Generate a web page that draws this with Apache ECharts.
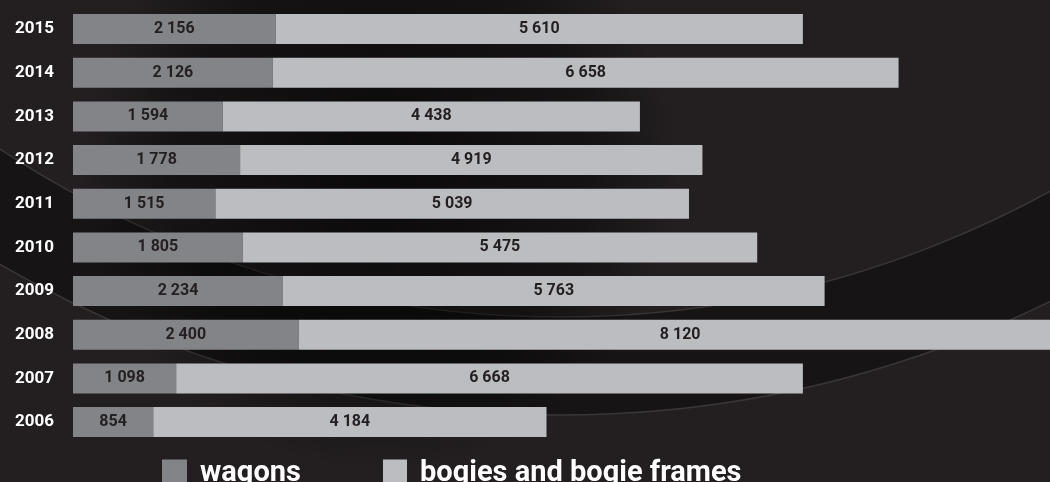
<!DOCTYPE html>
<html>
<head>
<meta charset="utf-8">
<style>
  html, body { margin: 0; padding: 0; background: #231f20; }
  #chart { width: 1050px; height: 482px; }
</style>
<script src="https://cdn.jsdelivr.net/npm/echarts@6/dist/echarts.min.js"></script>
</head>
<body>
<div id="chart"></div>
<script>
// Data (bottom to top on the category axis)
const years = ['2006', '2007', '2008', '2009', '2010', '2011', '2012', '2013', '2014', '2015'];
const wagons = [854, 1098, 2400, 2234, 1805, 1515, 1778, 1594, 2126, 2156];
const bogies = [4184, 6668, 8120, 5763, 5475, 5039, 4919, 4438, 6658, 5610];
const seriesNames = ['wagons', 'bogies and bogie frames'];

function fmt(v) {
  return String(v).replace(/\B(?=(\d{3})+(?!\d))/g, ' ');
}

const chart = echarts.init(document.getElementById('chart'), null, { renderer: 'canvas' });

const labelStyle = {
  show: true,
  position: 'inside',
  color: '#231f20',
  fontFamily: 'Roboto',
  fontWeight: 'bold',
  fontSize: 16,
  formatter: p => fmt(p.value)
};

const legendText = {
  color: '#ffffff', fontFamily: 'Roboto', fontWeight: 'bold', fontSize: 29,
  rich: {
    t: {
      color: '#ffffff', fontFamily: 'Roboto', fontWeight: 'bold', fontSize: 29,
      lineHeight: 29,
      padding: [3, 0, 0, 8]
    }
  }
};

chart.setOption({
  backgroundColor: '#231f20',
  animation: false,
  graphic: [
    {
      type: 'circle',
      z: -10,
      silent: true,
      shape: { cx: 560, cy: -700, r: 1115 },
      style: { fill: '#161415', stroke: '#3a3637', lineWidth: 1.5 }
    },
    {
      type: 'circle',
      z: -9,
      silent: true,
      shape: { cx: 560, cy: -700, r: 1017 },
      style: { fill: '#231f20', stroke: '#3a3637', lineWidth: 1.5 }
    },
    {
      type: 'circle',
      z: -8,
      silent: true,
      shape: { cx: 380, cy: 170, r: 300 },
      style: {
        fill: {
          type: 'radial', x: 0.5, y: 0.5, r: 0.5,
          colorStops: [
            { offset: 0, color: 'rgba(0,0,0,0.7)' },
            { offset: 0.7, color: 'rgba(0,0,0,0.4)' },
            { offset: 1, color: 'rgba(0,0,0,0)' }
          ]
        }
      }
    }
  ],
  legend: [
    {
      data: [seriesNames[0]],
      left: 162,
      top: 456,
      padding: 0,
      icon: 'rect',
      itemWidth: 25,
      itemHeight: 25,
      selectedMode: false,
      formatter: '{t|{name}}',
      textStyle: legendText
    },
    {
      data: [seriesNames[1]],
      left: 383,
      top: 456,
      padding: 0,
      icon: 'rect',
      itemWidth: 24,
      itemHeight: 25,
      selectedMode: false,
      formatter: '{t|{name}}',
      textStyle: legendText
    }
  ],
  grid: {
    left: 73,
    top: 7.2,
    width: 1000,
    height: 436.7,
    containLabel: false,
    outerBoundsMode: 'none'
  },
  xAxis: {
    type: 'value',
    min: 0,
    max: 10640,
    show: false
  },
  yAxis: {
    type: 'category',
    data: years,
    axisLine: { show: false },
    axisTick: { show: false },
    splitLine: { show: false },
    axisLabel: {
      color: '#ffffff',
      fontFamily: 'Roboto',
      fontWeight: 'bold',
      fontSize: 17,
      margin: 19
    }
  },
  series: [
    {
      name: seriesNames[0],
      type: 'bar',
      stack: 'total',
      barWidth: 30,
      data: wagons,
      itemStyle: { color: '#838487' },
      label: labelStyle
    },
    {
      name: seriesNames[1],
      type: 'bar',
      stack: 'total',
      barWidth: 30,
      data: bogies,
      itemStyle: { color: '#bcbdc0' },
      label: labelStyle
    }
  ]
});
</script>
</body>
</html>
